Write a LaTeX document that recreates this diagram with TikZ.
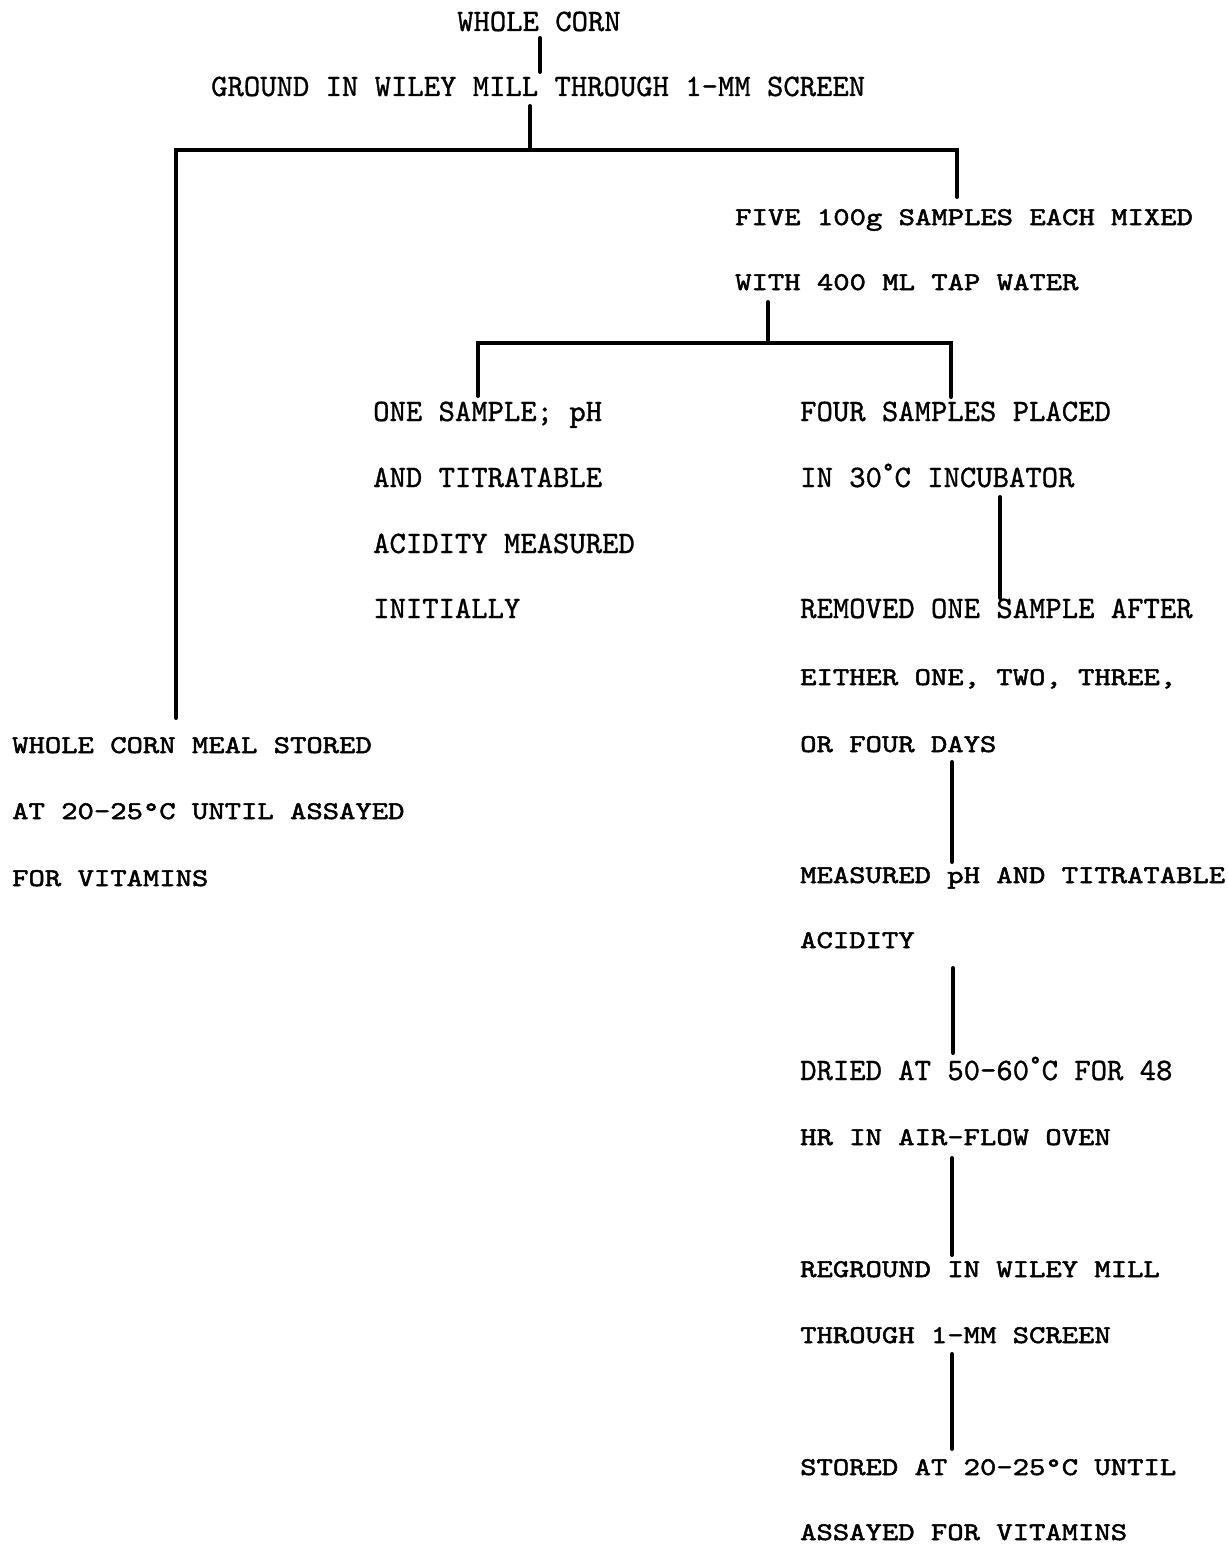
\documentclass[tikz,border=0pt]{standalone}
\usepackage{fontspec}
\newfontfamily\fa[Extension=.otf,FakeBold=1.0]{lmmono10-regular}
\newfontfamily\fb[Extension=.otf,FakeBold=2.0,FakeStretch=1.221]{lmmono10-regular}
\newcommand{\updeg}{\raisebox{0.28em}{\fontsize{24}{24}\selectfont °}}
\begin{document}
\begin{tikzpicture}[x=1pt,y=-1pt,
  lbla/.style={anchor=base west,inner sep=0pt,font=\fa\fontsize{31.14}{34}\selectfont},
  lblb/.style={anchor=base west,inner sep=0pt,font=\fb\fontsize{25.5}{28}\selectfont},
  conn/.style={line width=4pt,line cap=round,line join=miter}]
\useasboundingbox (0,0) rectangle (1227,1544);
% texts
\node[lbla] (wc) at (457,31) {WHOLE CORN};
\node[lbla] (gr) at (211,96) {GROUND IN WILEY MILL THROUGH 1-MM SCREEN};
\node[lblb] (five1) at (735,225) {FIVE 100g SAMPLES EACH MIXED};
\node[lblb] (five2) at (735,290) {WITH 400 ML TAP WATER};
\node[lbla] (one1) at (373,421) {ONE SAMPLE; pH};
\node[lbla] (one2) at (373,487) {AND TITRATABLE};
\node[lbla] (one3) at (373,553) {ACIDITY MEASURED};
\node[lbla] (one4) at (373,618) {INITIALLY};
\node[lbla] (four1) at (800,421) {FOUR SAMPLES PLACED};
\node[lbla] (four2) at (800,487) {IN 30\updeg C INCUBATOR};
\node[lbla] (rem1) at (800,618) {REMOVED ONE SAMPLE AFTER};
\node[lblb] (rem2) at (800,685) {EITHER ONE, TWO, THREE,};
\node[lblb] (rem3) at (800,752) {OR FOUR DAYS};
\node[lblb] (meas1) at (800,883) {MEASURED pH AND TITRATABLE};
\node[lblb] (meas2) at (800,948) {ACIDITY};
\node[lbla] (dry1) at (800,1080) {DRIED AT 50-60\updeg C FOR 48};
\node[lblb] (dry2) at (800,1145) {HR IN AIR-FLOW OVEN};
\node[lblb] (reg1) at (800,1277) {REGROUND IN WILEY MILL};
\node[lblb] (reg2) at (800,1343) {THROUGH 1-MM SCREEN};
\node[lblb] (st1) at (800,1475) {STORED AT 20-25°C UNTIL};
\node[lblb] (st2) at (800,1540) {ASSAYED FOR VITAMINS};
\node[lblb] (wm1) at (12,753) {WHOLE CORN MEAL STORED};
\node[lblb] (wm2) at (12,819) {AT 20-25°C UNTIL ASSAYED};
\node[lblb] (wm3) at (12,886) {FOR VITAMINS};
% junction coordinates
\coordinate (a1) at (540,38);   \coordinate (a2) at (540,72);
\coordinate (b1) at (530,106);  \coordinate (b2) at (530,150);
\coordinate (bl) at (176,150);  \coordinate (br) at (957,150);
\coordinate (blb) at (176,718); \coordinate (brb) at (957,197);
\coordinate (c1) at (768,302);  \coordinate (c2) at (768,343);
\coordinate (cl) at (478,343);  \coordinate (cr) at (951,343);
\coordinate (clb) at (478,396); \coordinate (crb) at (951,397);
\coordinate (d1) at (1000,497); \coordinate (d2) at (1000,598);
\coordinate (e1) at (952,762);  \coordinate (e2) at (952,862);
\coordinate (f1) at (953,968);  \coordinate (f2) at (953,1053);
\coordinate (g1) at (952,1158); \coordinate (g2) at (952,1255);
\coordinate (h1) at (952,1354); \coordinate (h2) at (952,1449);
% connectors
\draw[conn] (a1) -- (a2);
\draw[conn] (b1) -- (b2);
\draw[conn] (blb) -- (bl) -- (br) -- (brb);
\draw[conn] (c1) -- (c2);
\draw[conn] (clb) -- (cl) -- (cr) -- (crb);
\draw[conn] (d1) -- (d2);
\draw[conn] (e1) -- (e2);
\draw[conn] (f1) -- (f2);
\draw[conn] (g1) -- (g2);
\draw[conn] (h1) -- (h2);
\end{tikzpicture}
\end{document}
